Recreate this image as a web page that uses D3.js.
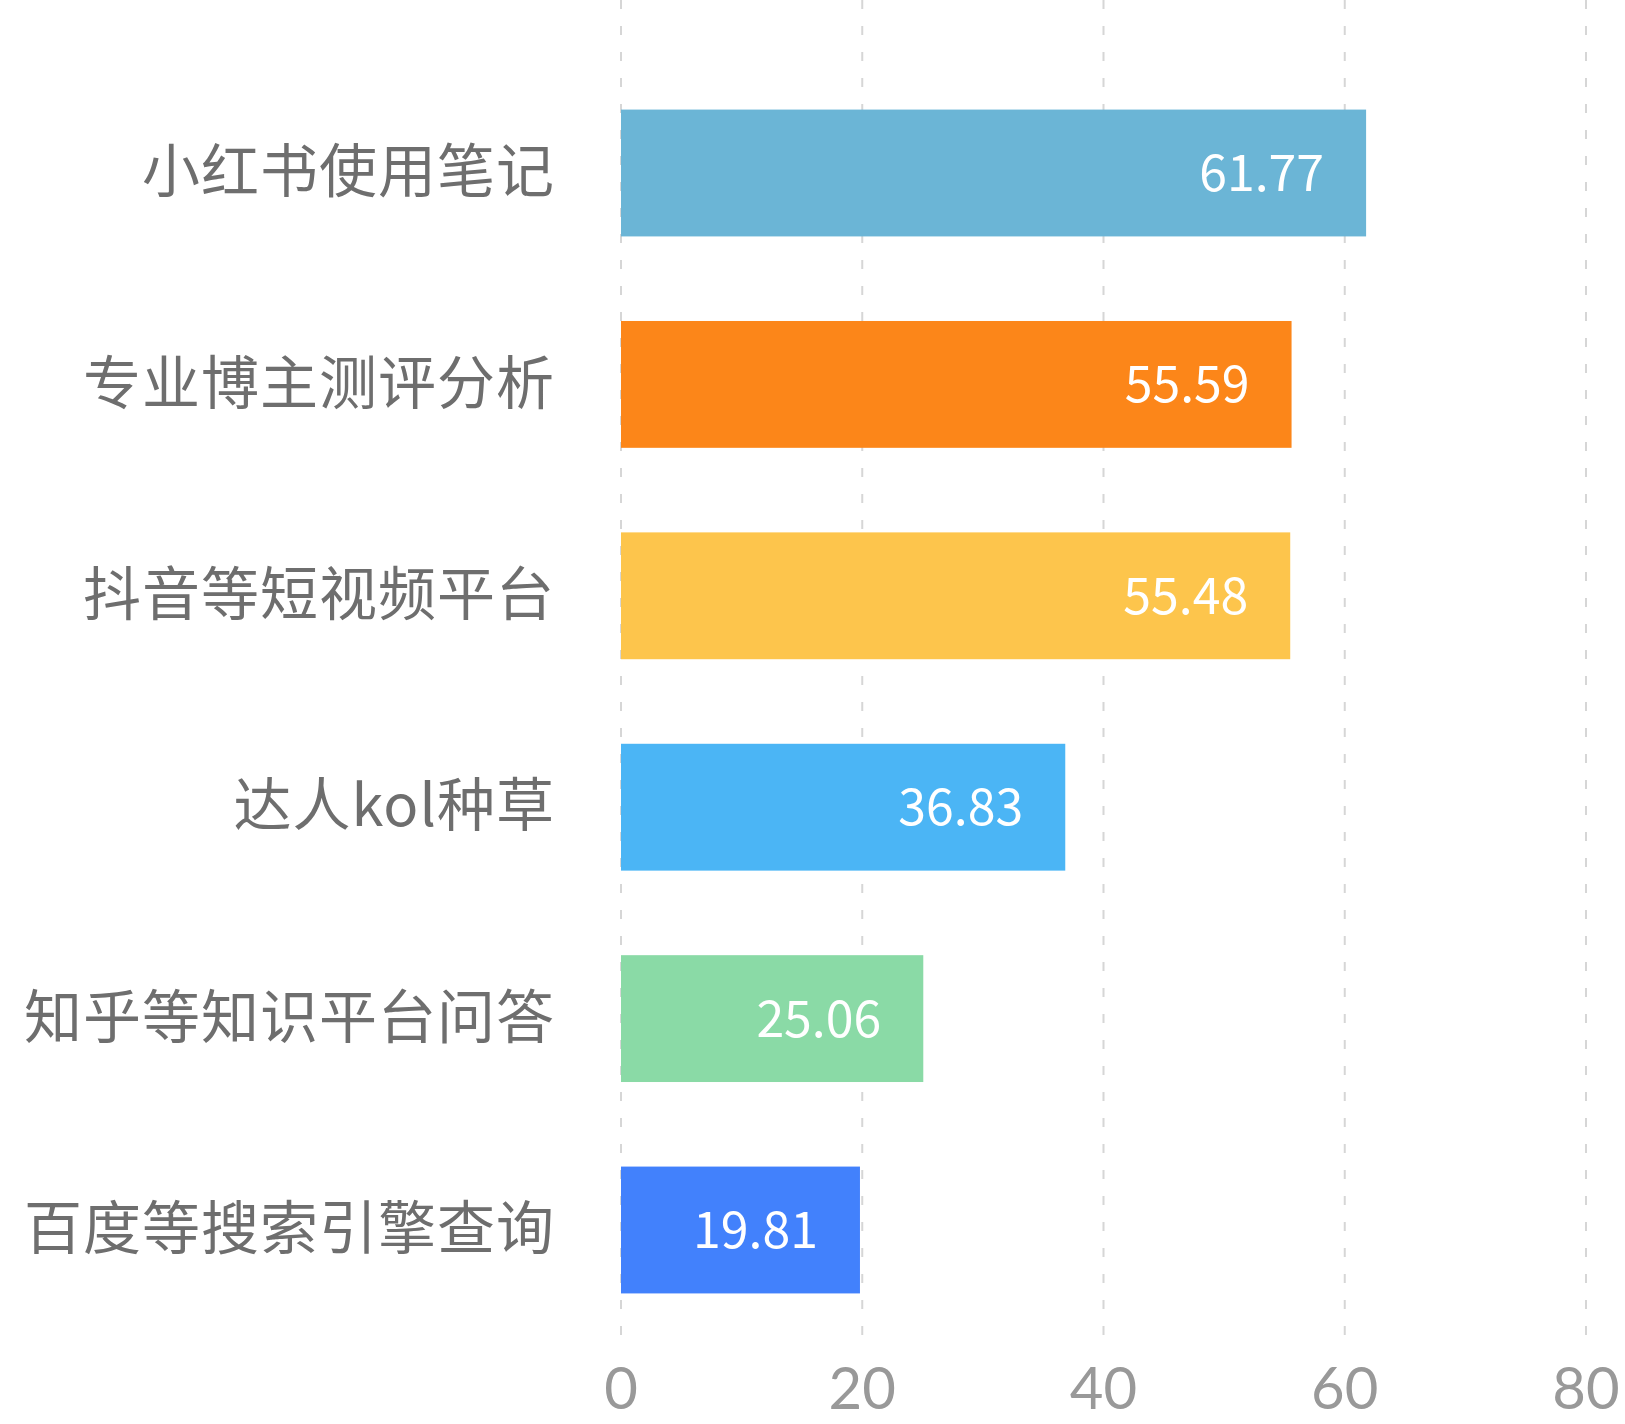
<!DOCTYPE html>
<html><head><meta charset="utf-8">
<script src="https://cdn.jsdelivr.net/npm/d3@7"></script>
<style>html,body{margin:0;padding:0;background:#fff;}svg{display:block;}</style>
</head><body>
<svg id="chart" width="1625" height="1424"></svg>
<script>
const categories = ["小红书使用笔记","专业博主测评分析","抖音等短视频平台","达人kol种草","知乎等知识平台问答","百度等搜索引擎查询"];
const values = [61.77, 55.59, 55.48, 36.83, 25.06, 19.81];
const colors = ["#6bb5d6","#fc8619","#fdc54c","#4bb5f5","#8adaa6","#4281fc"];
const xTicks = [0, 20, 40, 60, 80];

const svg = d3.select("#chart");
const font = "'Noto Sans CJK SC','Noto Sans',sans-serif";
const x = d3.scaleLinear().domain([0, 80]).range([621, 1586]);
const y = d3.scaleBand().domain(categories).range([67.3, 1335.7]).paddingInner(0.4).paddingOuter(0.2);

// gridlines
svg.append("g").selectAll("line").data(xTicks).join("line")
  .attr("x1", d => x(d)).attr("x2", d => x(d))
  .attr("y1", 0).attr("y2", 1347)
  .attr("stroke", "#d6d6d6").attr("stroke-width", 2)
  .attr("stroke-dasharray", "9,17");

// bars
svg.append("g").selectAll("rect").data(categories).join("rect")
  .attr("x", x(0)).attr("y", d => y(d))
  .attr("width", (d, i) => x(values[i]) - x(0))
  .attr("height", y.bandwidth())
  .attr("fill", (d, i) => colors[i]);

// value labels
svg.append("g").selectAll("text").data(categories).join("text")
  .attr("x", (d, i) => x(values[i]) - 42)
  .attr("y", d => y(d) + y.bandwidth() / 2)
  .attr("dy", "0.36em")
  .attr("text-anchor", "end")
  .attr("fill", "#fff")
  .attr("font-family", font).attr("font-size", 50)
  .text((d, i) => values[i].toFixed(2));

// category labels
svg.append("g").selectAll("text").data(categories).join("text")
  .attr("x", 555)
  .attr("y", d => y(d) + y.bandwidth() / 2)
  .attr("dy", "0.33em")
  .attr("text-anchor", "end")
  .attr("fill", "#6e6e6e")
  .attr("font-family", font).attr("font-size", 58)
  .attr("letter-spacing", 1)
  .text(d => d);

// x-axis tick labels
svg.append("g").selectAll("text").data(xTicks).join("text")
  .attr("x", d => x(d)).attr("y", 1409)
  .attr("text-anchor", "middle")
  .attr("fill", "#999")
  .attr("font-family", "Lato, 'Noto Sans', sans-serif").attr("font-size", 58)
  .text(d => d);
</script>
</body></html>
